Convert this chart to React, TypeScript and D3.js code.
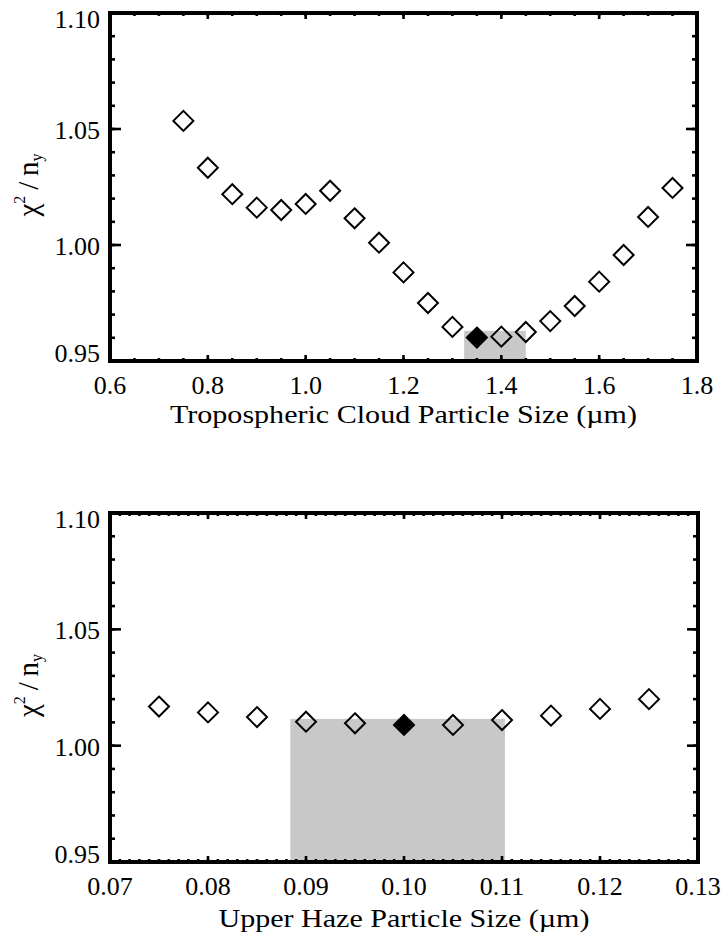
import React from 'react';
import * as d3 from 'd3';

// ---------- data ----------
const cloudSizes = [0.75, 0.80, 0.85, 0.90, 0.95, 1.00, 1.05, 1.10, 1.15, 1.20, 1.25, 1.30, 1.35, 1.40, 1.45, 1.50, 1.55, 1.60, 1.65, 1.70, 1.75];
const cloudChi2 = [1.0535, 1.0333, 1.0219, 1.0161, 1.0151, 1.0177, 1.0234, 1.0115, 1.0010, 0.9882, 0.9750, 0.9647, 0.9601, 0.9605, 0.9625, 0.9672, 0.9737, 0.9842, 0.9957, 1.0121, 1.0246];
const cloudBestIndex = 12;
const cloudBand = [1.324, 1.450];
const cloudBandTop = 0.963;
const cloudXTicks = [0.6, 0.8, 1.0, 1.2, 1.4, 1.6, 1.8];
const cloudXTickLabels = ['0.6', '0.8', '1.0', '1.2', '1.4', '1.6', '1.8'];
const cloudTitle = 'Tropospheric Cloud Particle Size (\u00b5m)';

const hazeSizes = [0.075, 0.080, 0.085, 0.090, 0.095, 0.100, 0.105, 0.110, 0.115, 0.120, 0.125];
const hazeChi2 = [1.0168, 1.0143, 1.0123, 1.0103, 1.0096, 1.0089, 1.0089, 1.0110, 1.0129, 1.0158, 1.0200];
const hazeBestIndex = 5;
const hazeBand = [0.0884, 0.1103];
const hazeBandTop = 1.0115;
const hazeXTicks = [0.07, 0.08, 0.09, 0.10, 0.11, 0.12, 0.13];
const hazeXTickLabels = ['0.07', '0.08', '0.09', '0.10', '0.11', '0.12', '0.13'];
const hazeTitle = 'Upper Haze Particle Size (\u00b5m)';

const yTicks = [0.95, 1.00, 1.05, 1.10];
const yTickLabels = ['0.95', '1.00', '1.05', '1.10'];

const fontStyle = { fontFamily: "'Liberation Serif', 'Times New Roman', Times, serif" };

type PanelProps = {
  left: number; right: number; top: number; bottom: number;
  xDomain: [number, number]; xTicks: number[]; xTickLabels: string[]; xMinorStep: number;
  xs: number[]; ys: number[]; best: number; band: number[]; bandTop: number;
  title: string; titleY: number; titleLength: number; xLabelOffset: number;
};

function Panel(p: PanelProps) {
  const x = d3.scaleLinear().domain(p.xDomain).range([p.left, p.right]);
  const y = d3.scaleLinear().domain([0.95, 1.10]).range([p.bottom, p.top]);
  const nMinor = Math.round((p.xDomain[1] - p.xDomain[0]) / p.xMinorStep);
  const xMinor = d3.range(nMinor + 1).map(i => p.xDomain[0] + i * p.xMinorStep);
  const yMinor = d3.range(16).map(i => 0.95 + i * 0.01);
  const diamond = (cx: number, cy: number, r: number) =>
    `M${cx},${cy - r}L${cx + r},${cy}L${cx},${cy + r}L${cx - r},${cy}Z`;
  const cxMid = (p.left + p.right) / 2;
  const cyMid = (p.top + p.bottom) / 2;
  const tickW = 2.6;
  return (
    <g>
      <rect x={x(p.band[0])} y={y(p.bandTop)} width={x(p.band[1]) - x(p.band[0])}
        height={y(0.95) - y(p.bandTop)} fill="#c8c8c8" />
      {xMinor.map((v, i) => (
        <g key={'xm' + i}>
          <line x1={x(v)} x2={x(v)} y1={p.bottom} y2={p.bottom - 3} stroke="#000" strokeWidth={tickW} />
          <line x1={x(v)} x2={x(v)} y1={p.top} y2={p.top + 3} stroke="#000" strokeWidth={tickW} />
        </g>
      ))}
      {p.xTicks.map((v, i) => (
        <g key={'xM' + i}>
          <line x1={x(v)} x2={x(v)} y1={p.bottom} y2={p.bottom - 6} stroke="#000" strokeWidth={tickW} />
          <line x1={x(v)} x2={x(v)} y1={p.top} y2={p.top + 6} stroke="#000" strokeWidth={tickW} />
          <text x={x(v)} y={p.bottom + p.xLabelOffset} textAnchor="middle" fontSize={26} style={fontStyle}>{p.xTickLabels[i]}</text>
        </g>
      ))}
      {yMinor.map((v, i) => (
        <g key={'ym' + i}>
          <line x1={p.left} x2={p.left + 5} y1={y(v)} y2={y(v)} stroke="#000" strokeWidth={tickW} />
          <line x1={p.right} x2={p.right - 5} y1={y(v)} y2={y(v)} stroke="#000" strokeWidth={tickW} />
        </g>
      ))}
      {yTicks.map((v, i) => {
        const base = Math.min(Math.max(y(v) + 10, p.top + 15), p.bottom + 1);
        return (
          <g key={'yM' + i}>
            <line x1={p.left} x2={p.left + 11} y1={y(v)} y2={y(v)} stroke="#000" strokeWidth={tickW} />
            <line x1={p.right} x2={p.right - 11} y1={y(v)} y2={y(v)} stroke="#000" strokeWidth={tickW} />
            <text x={p.left - 10} y={base} textAnchor="end" fontSize={26} style={fontStyle}>{yTickLabels[i]}</text>
          </g>
        );
      })}
      <rect x={p.left} y={p.top} width={p.right - p.left} height={p.bottom - p.top}
        fill="none" stroke="#000" strokeWidth={4} />
      {p.xs.map((v, i) => (
        <path key={'d' + i} d={diamond(x(v), y(p.ys[i]), 10)}
          fill={i === p.best ? '#000' : 'none'} stroke="#000" strokeWidth={2} strokeLinejoin="miter" />
      ))}
      <text x={cxMid} y={p.titleY} textAnchor="middle" fontSize={25} style={fontStyle}
        textLength={p.titleLength} lengthAdjust="spacingAndGlyphs">{p.title}</text>
      <text transform={`translate(38,${cyMid - 2}) rotate(-90)`} textAnchor="middle" fontSize={29} style={fontStyle}>
        {'\u03c7'}<tspan fontSize={16} dy={-13}>2</tspan><tspan dy={13}>{'\u2009/\u2009'}</tspan>n<tspan fontSize={16} dy={4}>y</tspan>
      </text>
    </g>
  );
}

export default function App() {
  return (
    <svg width={726} height={936} style={{ position: 'absolute', left: 0, top: 0, background: '#fff' }}>
      <rect x={0} y={0} width={726} height={936} fill="#fff" />
      <Panel left={110} right={697} top={13} bottom={361}
        xDomain={[0.6, 1.8]} xTicks={cloudXTicks} xTickLabels={cloudXTickLabels} xMinorStep={0.05}
        xs={cloudSizes} ys={cloudChi2} best={cloudBestIndex} band={cloudBand} bandTop={cloudBandTop}
        title={cloudTitle} titleY={423} titleLength={467} xLabelOffset={33} />
      <Panel left={110} right={698} top={513} bottom={862}
        xDomain={[0.07, 0.13]} xTicks={hazeXTicks} xTickLabels={hazeXTickLabels} xMinorStep={0.001}
        xs={hazeSizes} ys={hazeChi2} best={hazeBestIndex} band={hazeBand} bandTop={hazeBandTop}
        title={hazeTitle} titleY={927} titleLength={371} xLabelOffset={33} />
    </svg>
  );
}
